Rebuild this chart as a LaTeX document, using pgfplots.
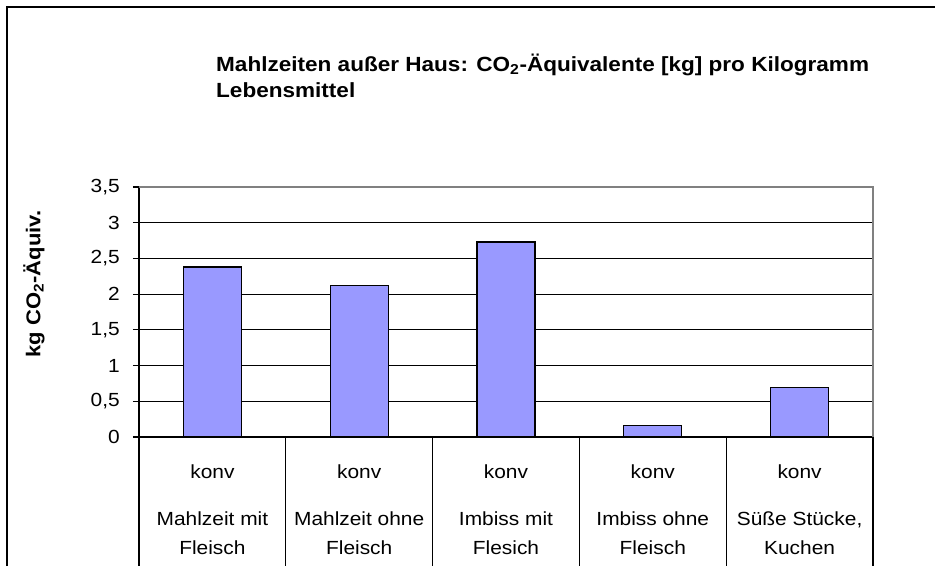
\documentclass[border=0pt]{standalone}
\usepackage{fontspec}
\setmainfont{Liberation Sans}[FakeStretch=1.1]
\usepackage{pgfplots}
\pgfplotsset{compat=1.18}
\definecolor{barfill}{HTML}{9999FF}
\definecolor{plotframe}{HTML}{808080}

\begin{document}
\begin{tikzpicture}
  \useasboundingbox (0,0) rectangle (935pt,566pt);
  % outer chart frame
  \draw[line width=2pt] (7pt,0) -- (7pt,559pt) -- (935pt,559pt);

  % title
  \node[anchor=north west, align=left, inner sep=0pt,
        font=\fontsize{20.5}{26}\selectfont\bfseries] at (216pt,512pt)
    {Mahlzeiten außer Haus: CO\textsubscript{2}-Äquivalente [kg] pro Kilogramm\\Lebensmittel};

  % y label
  \node[rotate=90, font=\fontsize{20}{24}\selectfont\bfseries] at (34pt,282pt)
    {kg CO\textsubscript{2}-Äquiv.};

  \begin{axis}[
      at={(139pt,129pt)}, anchor=south west,
      scale only axis, width=734pt, height=250pt,
      ybar, bar width=58pt, bar shift=0pt,
      xmin=-0.5, xmax=4.5, ymin=0, ymax=3.5,
      axis x line*=bottom, axis y line*=left,
      axis line style={line width=1.2pt, -},
      ytick={0,0.5,...,3.5},
      ymajorgrids, grid style={black, line width=1.1pt},
      tick align=outside, major tick length=6pt,
      ytick style={black, line width=1.2pt},
      xtick={0,1,2,3,4}, xtick style={draw=none},
      xticklabels={
        {konv\\[18pt]Mahlzeit mit\\Fleisch},
        {konv\\[18pt]Mahlzeit ohne\\Fleisch},
        {konv\\[18pt]Imbiss mit\\Flesich},
        {konv\\[18pt]Imbiss ohne\\Fleisch},
        {konv\\[18pt]Süße Stücke,\\Kuchen}},
      xticklabel style={align=center, anchor=north, inner sep=0pt,
        yshift=-22pt, font=\fontsize{19}{29}\selectfont},
      yticklabel style={font=\fontsize{19}{22}\selectfont, inner sep=0pt, xshift=-13pt},
      /pgf/number format/use comma,
      /pgf/number format/assume math mode=true,
      clip=false,
    ]
    \addplot[fill=barfill, draw=black, line width=1.3pt] coordinates {
      (0,2.38) (1,2.12) (2,2.73) (3,0.16) (4,0.69)
    };
    % plot area border (grey, top and right)
    \draw[plotframe, line width=1.5pt] (axis cs:-0.5,3.5) -- (axis cs:4.5,3.5) -- (axis cs:4.5,0);
    % category table lines below the axis
    \pgfplotsinvokeforeach{-0.5,0.5,1.5,2.5,3.5,4.5}{
      \draw[black, line width=1.2pt] (axis cs:#1,0) -- ++(0pt,-129pt);
    }
  \end{axis}
\end{tikzpicture}
\end{document}
